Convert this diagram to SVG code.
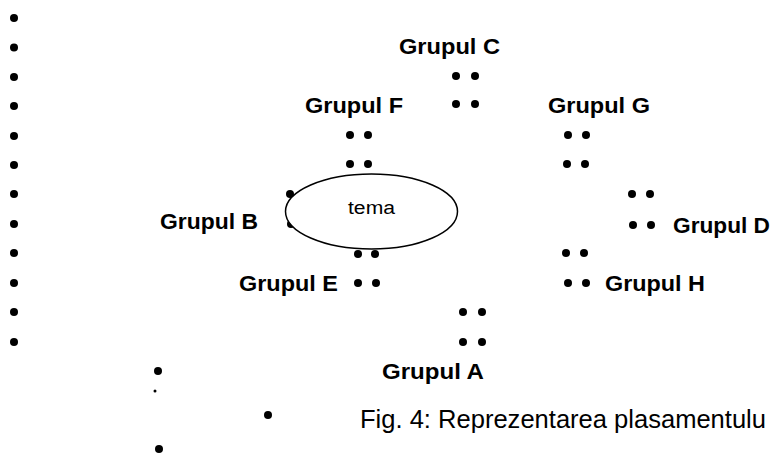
<svg xmlns="http://www.w3.org/2000/svg" width="772" height="455" viewBox="0 0 772 455">
  <style>
    .lbl { font-family: "Liberation Sans", Arial, sans-serif; font-weight: bold; font-size: 22px; fill: #000; }
    .txt { font-family: "Liberation Sans", Arial, sans-serif; fill: #000; }
    .dot { fill: #000; }
  </style>
  <defs>
    <circle id="b" r="4" class="dot"/>
  </defs>

  <!-- list bullets down the left margin -->
  <g id="margin-bullets">
    <use href="#b" x="14" y="18"/>
    <use href="#b" x="14" y="47.5"/>
    <use href="#b" x="14" y="77"/>
    <use href="#b" x="14" y="106"/>
    <use href="#b" x="14" y="136"/>
    <use href="#b" x="14" y="165"/>
    <use href="#b" x="14" y="194"/>
    <use href="#b" x="14" y="224"/>
    <use href="#b" x="14" y="253"/>
    <use href="#b" x="14" y="283"/>
    <use href="#b" x="14" y="312"/>
    <use href="#b" x="14" y="342"/>
  </g>

  <g id="group-c">
    <text class="lbl" x="399" y="54" textLength="101" lengthAdjust="spacingAndGlyphs">Grupul C</text>
    <use href="#b" x="456" y="76"/><use href="#b" x="475" y="76"/>
    <use href="#b" x="456" y="104"/><use href="#b" x="475" y="104"/>
  </g>

  <g id="group-f">
    <text class="lbl" x="305" y="113" textLength="98" lengthAdjust="spacingAndGlyphs">Grupul F</text>
    <use href="#b" x="350" y="135"/><use href="#b" x="368" y="135"/>
    <use href="#b" x="350" y="164"/><use href="#b" x="368" y="164"/>
  </g>

  <g id="group-g">
    <text class="lbl" x="548" y="113" textLength="102" lengthAdjust="spacingAndGlyphs">Grupul G</text>
    <use href="#b" x="568" y="135"/><use href="#b" x="586" y="135"/>
    <use href="#b" x="567" y="164"/><use href="#b" x="585" y="164"/>
  </g>

  <g id="group-b">
    <text class="lbl" x="160" y="229" textLength="98" lengthAdjust="spacingAndGlyphs">Grupul B</text>
    <use href="#b" x="290" y="194"/>
    <use href="#b" x="291" y="224"/>
  </g>

  <g id="tema">
    <ellipse cx="371.5" cy="211.5" rx="86" ry="37.5" fill="#fff" stroke="#000" stroke-width="1.5"/>
    <text class="txt" x="371.5" y="214" text-anchor="middle" font-size="18" textLength="47" lengthAdjust="spacingAndGlyphs">tema</text>
  </g>

  <g id="group-e">
    <use href="#b" x="358" y="254"/><use href="#b" x="375" y="254"/>
    <text class="lbl" x="239" y="291" textLength="99" lengthAdjust="spacingAndGlyphs">Grupul E</text>
    <use href="#b" x="358" y="283"/><use href="#b" x="376" y="283"/>
  </g>

  <g id="group-d">
    <use href="#b" x="632" y="194"/><use href="#b" x="650" y="194"/>
    <use href="#b" x="633" y="225"/><use href="#b" x="651" y="225"/>
    <text class="lbl" x="673" y="233" textLength="97" lengthAdjust="spacingAndGlyphs">Grupul D</text>
  </g>

  <g id="group-h">
    <use href="#b" x="566" y="253"/><use href="#b" x="584" y="253"/>
    <use href="#b" x="568" y="283"/><use href="#b" x="586" y="283"/>
    <text class="lbl" x="605" y="291" textLength="100" lengthAdjust="spacingAndGlyphs">Grupul H</text>
  </g>

  <g id="group-a">
    <use href="#b" x="463" y="312"/><use href="#b" x="482" y="312"/>
    <use href="#b" x="463" y="342"/><use href="#b" x="482" y="342"/>
    <text class="lbl" x="382" y="379" textLength="102" lengthAdjust="spacingAndGlyphs">Grupul A</text>
  </g>

  <!-- trailing bullets and caption -->
  <g id="caption">
    <use href="#b" x="158" y="371"/>
    <circle cx="155" cy="391" r="1.5" class="dot"/>
    <use href="#b" x="268" y="415"/>
    <use href="#b" x="159" y="449"/>
    <text class="txt" x="360" y="428" font-size="26" textLength="406" lengthAdjust="spacingAndGlyphs">Fig. 4: Reprezentarea plasamentulu</text>
  </g>
</svg>
